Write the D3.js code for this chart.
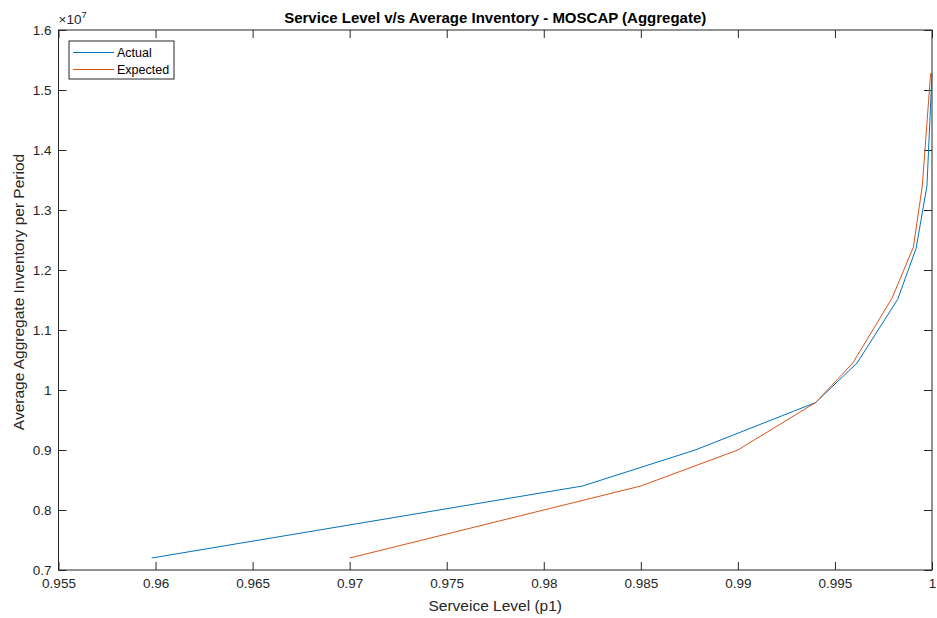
<!DOCTYPE html>
<html>
<head>
<meta charset="utf-8">
<script src="https://cdn.jsdelivr.net/npm/d3@7"></script>
<style>
  body { margin: 0; background: #fff; }
  text { font-family: "Liberation Sans", Arial, sans-serif; fill: #262626; }
</style>
</head>
<body>
<div id="chart"></div>
<script>
// service level (p1) vs average aggregate inventory (x 1e7)
const actualX = [0.9598, 0.982, 0.9878, 0.994, 0.99614, 0.99823, 0.99918, 0.99974, 1.0];
const actualY = [0.72, 0.84, 0.90, 0.979, 1.045, 1.151, 1.236, 1.34, 1.528];
const expectedX = [0.970, 0.985, 0.990, 0.994, 0.99592, 0.99794, 0.99904, 0.9995, 0.99993];
const expectedY = [0.72, 0.84, 0.90, 0.979, 1.045, 1.153, 1.238, 1.34, 1.528];
const xTicks = [0.955, 0.96, 0.965, 0.97, 0.975, 0.98, 0.985, 0.99, 0.995, 1];
const yTicks = [0.7, 0.8, 0.9, 1, 1.1, 1.2, 1.3, 1.4, 1.5, 1.6];

const width = 937, height = 618;
const plotL = 58.5, plotR = 932, plotT = 30, plotB = 570;
const axisColor = "#262626";

const svg = d3.select("#chart").append("svg")
  .attr("width", width)
  .attr("height", height);

const x = d3.scaleLinear().domain([0.955, 1]).range([plotL, plotR]);
const y = d3.scaleLinear().domain([0.7, 1.6]).range([plotB, plotT]);

// box
svg.append("rect")
  .attr("x", plotL).attr("y", plotT)
  .attr("width", plotR - plotL).attr("height", plotB - plotT)
  .attr("fill", "none").attr("stroke", axisColor).attr("stroke-width", 1);

const fmt = d => String(+d.toFixed(3));

// bottom axis with inward ticks
const xAxis = svg.append("g")
  .attr("transform", `translate(0,${plotB})`)
  .call(d3.axisBottom(x).tickValues(xTicks).tickSize(-8).tickPadding(8).tickFormat(fmt));
xAxis.select(".domain").remove();
xAxis.selectAll("line").attr("stroke", axisColor);
xAxis.selectAll("text").attr("font-size", 13.5).attr("fill", axisColor);

// top ticks
svg.append("g")
  .attr("transform", `translate(0,${plotT})`)
  .call(d3.axisTop(x).tickValues(xTicks).tickSize(-8).tickFormat(""))
  .call(g => g.select(".domain").remove())
  .selectAll("line").attr("stroke", axisColor);

const yAxis = svg.append("g")
  .attr("transform", `translate(${plotL},0)`)
  .call(d3.axisLeft(y).tickValues(yTicks).tickSize(-8).tickPadding(7).tickFormat(fmt));
yAxis.select(".domain").remove();
yAxis.selectAll("line").attr("stroke", axisColor);
yAxis.selectAll("text").attr("font-size", 13.5).attr("fill", axisColor);

// right ticks
svg.append("g")
  .attr("transform", `translate(${plotR},0)`)
  .call(d3.axisRight(y).tickValues(yTicks).tickSize(-8).tickFormat(""))
  .call(g => g.select(".domain").remove())
  .selectAll("line").attr("stroke", axisColor);

// exponent
const expo = svg.append("text")
  .attr("x", plotL).attr("y", 24)
  .attr("font-size", 13.5);
expo.append("tspan").text("\u00d710");
expo.append("tspan").attr("font-size", 9.5).attr("dy", -6).text("7");

// title and labels
svg.append("text")
  .attr("x", (plotL + plotR) / 2).attr("y", 23)
  .attr("text-anchor", "middle")
  .attr("font-size", 15).attr("font-weight", "bold")
  .style("fill", "#000")
  .text("Service Level v/s Average Inventory - MOSCAP (Aggregate)");

svg.append("text")
  .attr("x", (plotL + plotR) / 2).attr("y", 611)
  .attr("text-anchor", "middle")
  .attr("font-size", 15.5)
  .text("Serveice Level (p1)");

svg.append("text")
  .attr("transform", `translate(24,${(plotT + plotB) / 2 - 8}) rotate(-90)`)
  .attr("text-anchor", "middle")
  .attr("font-size", 15.5)
  .text("Average Aggregate Inventory per Period");

// lines
const line = d3.line().x(d => x(d[0])).y(d => y(d[1]));
const series = [
  { name: "Actual", color: "#0072BD", pts: d3.zip(actualX, actualY) },
  { name: "Expected", color: "#D95319", pts: d3.zip(expectedX, expectedY) }
];

svg.append("g").selectAll("path")
  .data(series)
  .enter().append("path")
  .attr("d", d => line(d.pts))
  .attr("fill", "none")
  .attr("stroke", d => d.color)
  .attr("stroke-width", 1);

// legend
const legend = svg.append("g").attr("transform", "translate(69,41)");
legend.append("rect")
  .attr("width", 105).attr("height", 38)
  .attr("fill", "#fff").attr("stroke", axisColor).attr("stroke-width", 1);
const item = legend.selectAll("g.item")
  .data(series)
  .enter().append("g")
  .attr("transform", (d, i) => `translate(0,${11.5 + i * 17})`);
item.append("line")
  .attr("x1", 4).attr("x2", 45)
  .attr("stroke", d => d.color).attr("stroke-width", 1);
item.append("text")
  .attr("x", 48).attr("dy", "0.35em")
  .attr("font-size", 12.5).style("fill", "#000")
  .text(d => d.name);
</script>
</body>
</html>
